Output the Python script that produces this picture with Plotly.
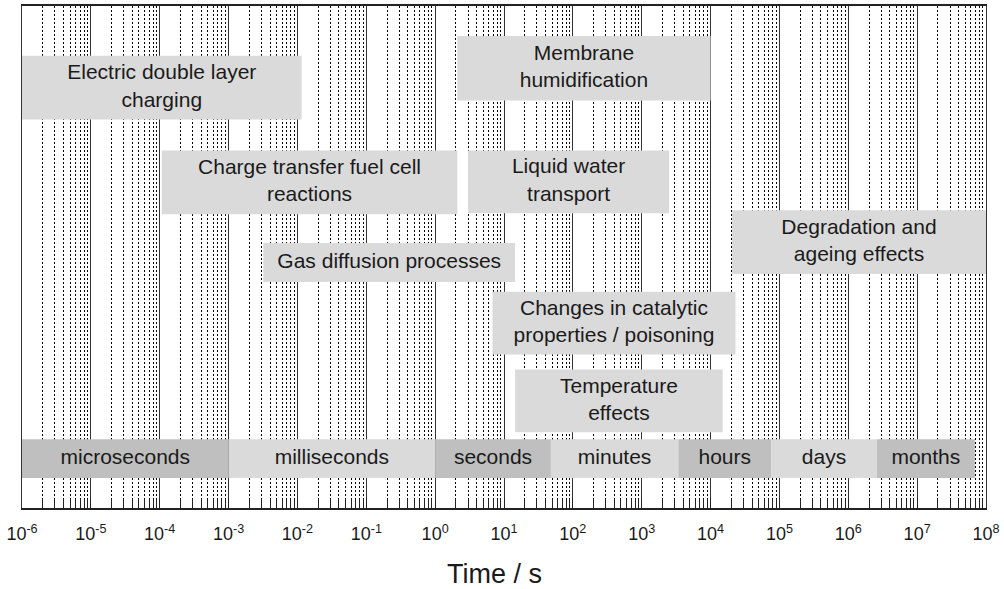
import numpy as np
import plotly.graph_objects as go

# ---------------- data ----------------
process_labels = [
    "Electric double layer<br>charging",
    "Charge transfer fuel cell<br>reactions",
    "Membrane<br>humidification",
    "Liquid water<br>transport",
    "Degradation and<br>ageing effects",
    "Gas diffusion processes",
    "Changes in catalytic<br>properties / poisoning",
    "Temperature<br>effects",
]
process_start_s = [1e-6, 1.07e-4, 2.1, 3.0, 2.05e4, 3.2e-3, 6.8, 14.5]
process_end_s = [1.15e-2, 2.1, 1.0e4, 2.5e3, 1e8, 14.5, 2.3e4, 1.5e4]

scale_labels = ["microseconds", "milliseconds", "seconds", "minutes", "hours", "days", "months"]
scale_start_s = [1e-6, 1e-3, 1.0, 48.0, 3.4e3, 7.6e4, 2.6e6]
scale_end_s = [1e-3, 1.0, 48.0, 3.4e3, 7.6e4, 2.6e6, 6.9e7]

tick_exponents = list(range(-6, 9))
tick_labels = ["10<sup>%d</sup>" % e for e in tick_exponents]

# ---------------- layout (rows in screen pixel units) ----------------
process_top = [54, 149, 34, 149, 209, 242, 291, 369]
process_bottom = [118, 213, 99, 212, 273, 281, 354, 432]
scale_top = 439
scale_bottom = 478
scale_shade = ["#bfbfbf", "#dadada", "#bfbfbf", "#dadada", "#bfbfbf", "#dadada", "#bfbfbf"]
light = "#dadada"
font_family = "Liberation Sans, Arial, sans-serif"
text_color = "#1a1a1a"

fig = go.Figure()


def add_box(x0, x1, y0, y1, color, label):
    fig.add_trace(go.Scatter(
        x=[x0, x1, x1, x0, x0], y=[y0, y0, y1, y1, y0],
        mode="lines", fill="toself", fillcolor=color,
        line=dict(width=0, color=color), hoverinfo="skip", showlegend=False))
    fig.add_trace(go.Scatter(
        x=[np.sqrt(x0 * x1)], y=[(y0 + y1) / 2], mode="text", text=[label],
        textposition="middle center",
        textfont=dict(family=font_family, size=21, color=text_color),
        hoverinfo="skip", showlegend=False))


for lab, a, b, t, bt in zip(process_labels, process_start_s, process_end_s, process_top, process_bottom):
    add_box(a, b, t, bt, light, lab)

for lab, a, b, c in zip(scale_labels, scale_start_s, scale_end_s, scale_shade):
    add_box(a, b, scale_top, scale_bottom, c, lab)

minor_vals = [m * 10.0 ** k for k in range(-6, 8) for m in range(2, 10)]

fig.update_xaxes(
    type="log", range=[-6, 8],
    tickmode="array", tickvals=[10.0 ** e for e in tick_exponents], ticktext=tick_labels,
    ticks="inside", ticklen=10, tickcolor="#222", tickwidth=1,
    ticklabelstandoff=9,
    showgrid=True, gridcolor="#333", gridwidth=1,
    showline=True, linecolor="#222", linewidth=1.5, mirror=True,
    tickfont=dict(family=font_family, size=18, color=text_color),
    minor=dict(tickmode="array", tickvals=minor_vals, showgrid=True,
               gridcolor="#000", gridwidth=1, griddash="2px,2px",
               ticks="inside", ticklen=9, tickcolor="#222", tickwidth=1),
    zeroline=False,
)
fig.update_yaxes(
    range=[508, 4], showgrid=False, showticklabels=False, ticks="",
    showline=True, linecolor="#333", linewidth=1, mirror=True, zeroline=False,
)

fig.add_annotation(
    text="Time / s", xref="paper", yref="paper", x=(495 - 22) / 966, y=-(574 - 508) / 504,
    xanchor="center", yanchor="middle", showarrow=False,
    font=dict(family=font_family, size=27, color=text_color))

fig.update_layout(
    width=1004, height=589,
    margin=dict(l=22, r=16, t=4, b=81),
    plot_bgcolor="white", paper_bgcolor="white",
)

fig.write_html("out.html",
               config={"displayModeBar": False},
               post_script="document.body.style.margin='0';document.body.style.overflow='hidden';")
